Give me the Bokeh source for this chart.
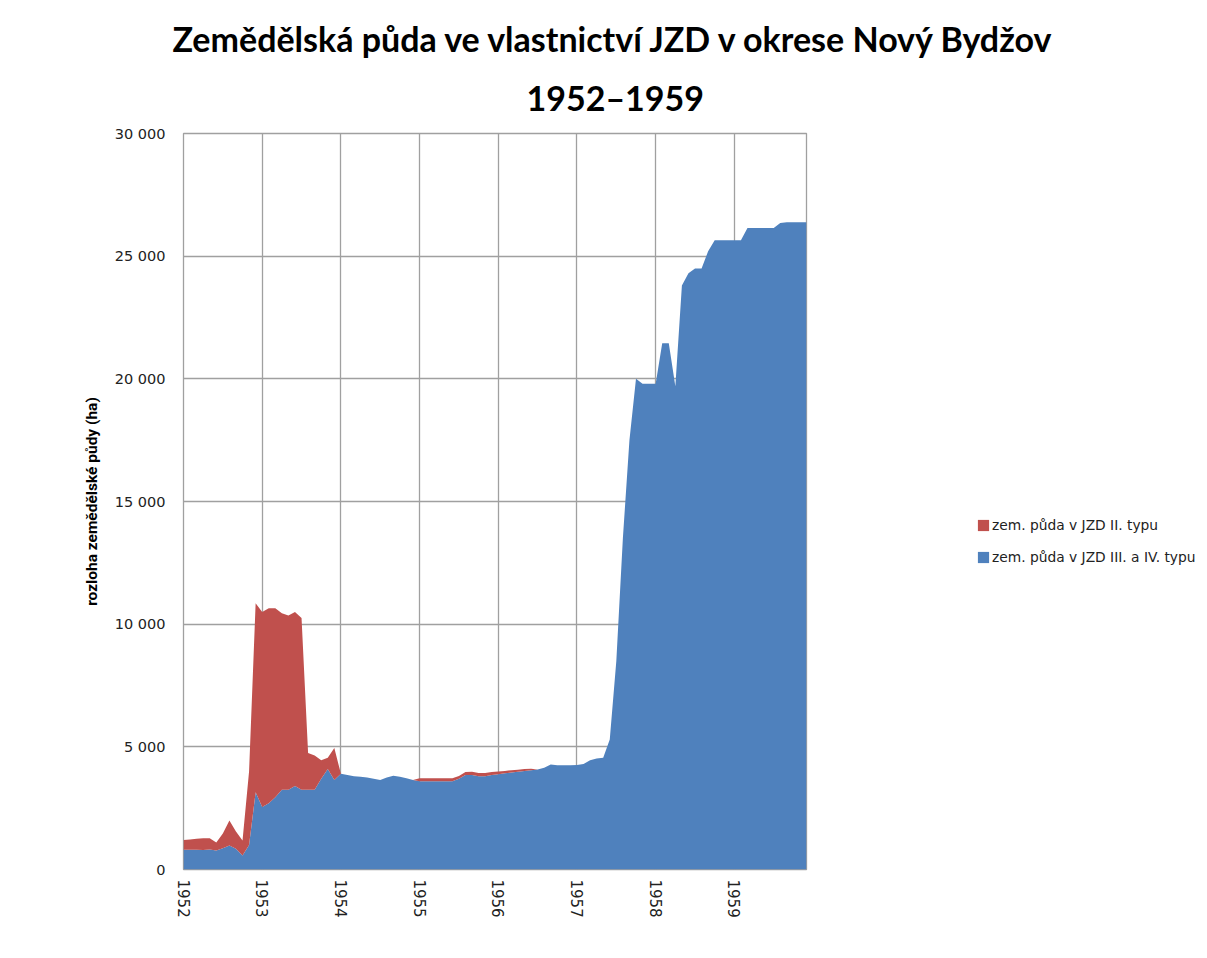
import math
from bokeh.plotting import figure
from bokeh.models import (ColumnDataSource, Range1d, FixedTicker, Legend,
                          LegendItem, Title)
from bokeh.embed import file_html
from bokeh.resources import INLINE

# ---------------- data (monthly, Jan 1952 .. Dec 1959) ----------------
years = ["1952", "1953", "1954", "1955", "1956", "1957", "1958", "1959"]

# zem. půda v JZD III. a IV. typu (ha)
jzd_3_4 = [
    800, 800, 800, 790, 820, 770, 870, 980, 850, 570, 1000, 3150,
    2550, 2700, 2950, 3250, 3250, 3400, 3250, 3250, 3250, 3700, 4100, 3650,
    3900, 3850, 3800, 3780, 3750, 3700, 3650, 3750, 3820, 3780, 3720, 3650,
    3600, 3600, 3600, 3600, 3600, 3600, 3700, 3850, 3850, 3800, 3800, 3850,
    3880, 3920, 3950, 3980, 4020, 4050, 4080, 4150, 4280, 4250, 4250, 4250,
    4260, 4300, 4450, 4520, 4550, 5300, 8500, 13500, 17500, 20000, 19800, 19800,
    19800, 21450, 21450, 19700, 23800, 24300, 24500, 24500, 25200, 25650, 25650, 25650,
    25650, 25650, 26150, 26150, 26150, 26150, 26150, 26350, 26380, 26380, 26380, 26380,
]

# zem. půda v JZD II. typu (ha)
jzd_2 = [
    400, 420, 450, 480, 450, 330, 600, 1020, 700, 610, 3000, 7700,
    7950, 7950, 7700, 7200, 7100, 7100, 7000, 1500, 1400, 750, 450, 1300,
    0, 0, 0, 0, 0, 0, 0, 0, 0, 0, 0, 0,
    120, 120, 120, 120, 120, 120, 110, 120, 130, 130, 130, 120,
    110, 100, 100, 90, 80, 60, 0, 0, 0, 0, 0, 0,
    0, 0, 0, 0, 0, 0, 0, 0, 0, 0, 0, 0,
    0, 0, 0, 0, 0, 0, 0, 0, 0, 0, 0, 0,
    0, 0, 0, 0, 0, 0, 0, 0, 0, 0, 0, 0,
]

y_ticks = [0, 5000, 10000, 15000, 20000, 25000, 30000]
y_tick_labels = ["0", "5 000", "10 000", "15 000", "20 000", "25 000", "30 000"]

series_labels = ["zem. půda v JZD II. typu", "zem. půda v JZD III. a IV. typu"]
title_line1 = "Zemědělská půda ve vlastnictví JZD v okrese Nový Bydžov"
title_line2 = "1952–1959"
y_label = "rozloha zemědělské půdy (ha)"

RED = "#C0504D"
BLUE = "#4F81BD"
GRID = "#A0A0A0"

months = list(range(len(jzd_3_4)))
source = ColumnDataSource(dict(x=months, blue=jzd_3_4, red=jzd_2))

p = figure(frame_width=623, frame_height=736,
           min_border_left=183, min_border_right=398,
           min_border_top=133, min_border_bottom=85,
           x_range=Range1d(0, len(months) - 1), y_range=Range1d(0, 30000),
           output_backend="svg", toolbar_location=None,
           background_fill_color="white", border_fill_color="white")

renderers = p.varea_stack(["blue", "red"], x="x", source=source,
                          color=[BLUE, RED])
r_blue, r_red = renderers

# titles (p.title is the outer line, the added Title sits next to the frame)
p.title.text = title_line1
p.title.align = "left"
p.title.offset = -11
p.title.text_font = "Lato"
p.title.text_font_style = "bold"
p.title.text_font_size = "34px"
p.title.text_color = "black"
p.title.standoff = 0
t2 = Title(text=title_line2, align="left", offset=343, text_font="Lato",
           text_font_style="bold", text_font_size="34px", text_color="black",
           text_line_height=0.75, standoff=32)
p.add_layout(t2, "above")

# axes
year_ticks = [12 * i for i in range(len(years))]
p.xaxis.ticker = FixedTicker(ticks=year_ticks)
p.xaxis.major_label_overrides = {t: lab for t, lab in zip(year_ticks, years)}
p.xaxis.major_label_orientation = -math.pi / 2
p.xaxis.major_label_text_font = "DejaVu Sans"
p.xaxis.major_label_text_font_size = "15px"
p.xaxis.major_label_text_color = "#222222"
p.xaxis.major_label_standoff = 10

p.yaxis.ticker = FixedTicker(ticks=y_ticks)
p.yaxis.major_label_overrides = {t: lab for t, lab in zip(y_ticks, y_tick_labels)}
p.yaxis.major_label_text_font = "DejaVu Sans"
p.yaxis.major_label_text_font_size = "14.5px"
p.yaxis.major_label_text_color = "#222222"
p.yaxis.major_label_standoff = 18
p.yaxis.axis_label = y_label
p.yaxis.axis_label_text_font = "Roboto"
p.yaxis.axis_label_text_font_style = "bold"
p.yaxis.axis_label_text_font_size = "15.5px"
p.yaxis.axis_label_text_color = "black"
p.yaxis.axis_label_standoff = 11

for ax in (p.xaxis, p.yaxis):
    ax.axis_line_color = None
    ax.major_tick_line_color = None
    ax.minor_tick_line_color = None
    ax.major_tick_in = 0
    ax.major_tick_out = 0

p.xgrid.ticker = FixedTicker(ticks=year_ticks)
p.ygrid.ticker = FixedTicker(ticks=y_ticks)
for g in (p.xgrid, p.ygrid):
    g.grid_line_color = GRID
    g.grid_line_width = 1.3
p.outline_line_color = GRID
p.outline_line_width = 1.3

legend = Legend(items=[LegendItem(label=series_labels[0], renderers=[r_red]),
                       LegendItem(label=series_labels[1], renderers=[r_blue])],
                location=(170, 304), padding=0, margin=0, spacing=16,
                glyph_height=14, glyph_width=14, label_standoff=2,
                label_text_font="DejaVu Sans", label_text_font_size="13.8px",
                label_text_color="#222222",
                border_line_color=None, background_fill_alpha=0)
p.add_layout(legend, "right")

open("out.html", "w").write(file_html(p, INLINE))
